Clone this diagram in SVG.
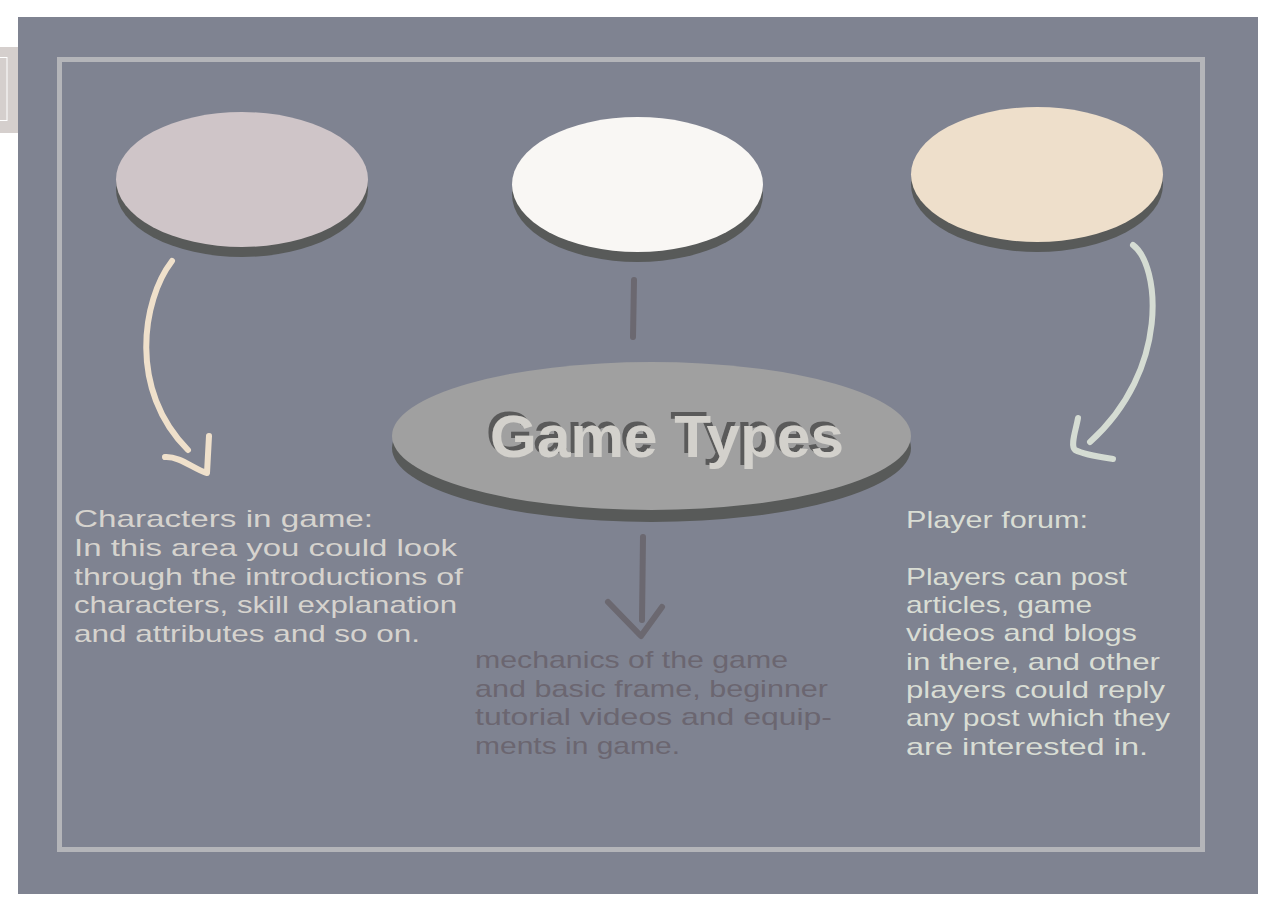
<svg xmlns="http://www.w3.org/2000/svg" width="1275" height="909" viewBox="0 0 1275 909">
<style>
.shadow{fill:#585a59}
.hand{font-family:"Liberation Sans",Arial,sans-serif;font-size:24px}
.lt{fill:#d6d3ce}
.mt{fill:#6b6670}
.rt{fill:#d9ddd4}
.conn{fill:none;stroke-linecap:round;stroke-linejoin:round;stroke-width:6}
</style>
<defs>
<filter id="tshadow" x="-10%" y="-30%" width="120%" height="160%">
<feFlood flood-color="#5a5a5a" result="c"/>
<feComposite in="c" in2="SourceAlpha" operator="in" result="s"/>
<feOffset in="s" dx="-4" dy="-4" result="o"/>
<feMerge><feMergeNode in="o"/><feMergeNode in="SourceGraphic"/></feMerge>
</filter>
</defs>
<rect x="0" y="0" width="1275" height="909" fill="#ffffff"/>
<g id="tab">
<rect x="0" y="47" width="18" height="86" fill="#d5cfcd"/>
<rect x="-2" y="57.5" width="9" height="63" fill="none" stroke="#ffffff" stroke-width="1"/>
</g>
<g id="panel">
<rect x="18" y="17" width="1240" height="877" fill="#7f8391"/>
<rect x="59.5" y="59.5" width="1143" height="790" fill="none" stroke="#b4b5b9" stroke-width="5"/>
</g>
<g id="node-left">
<ellipse class="shadow" cx="242" cy="189.5" rx="126" ry="67.5"/>
<ellipse cx="242" cy="179.5" rx="126" ry="67.5" fill="#cfc5c8"/>
</g>
<g id="node-middle">
<ellipse class="shadow" cx="637.5" cy="194.5" rx="125.5" ry="67.5"/>
<ellipse cx="637.5" cy="184.5" rx="125.5" ry="67.5" fill="#f9f7f4"/>
</g>
<g id="node-right">
<ellipse class="shadow" cx="1037" cy="184.5" rx="126" ry="67.5"/>
<ellipse cx="1037" cy="174.5" rx="126" ry="67.5" fill="#eedfcb"/>
</g>
<g id="node-center">
<ellipse class="shadow" cx="651.5" cy="448" rx="259.5" ry="74"/>
<ellipse cx="651.5" cy="436" rx="259.5" ry="74" fill="#a0a0a0"/>
<text x="667" y="457" text-anchor="middle" font-family="'Liberation Sans',Arial,sans-serif" font-weight="bold" font-size="60" fill="#d3d1cc" filter="url(#tshadow)" textLength="354" lengthAdjust="spacingAndGlyphs">Game Types</text>
</g>
<g id="connectors">
<path class="conn" stroke="#efe0cb" d="M172,261 C142,300 128,390 188,450"/>
<path class="conn" stroke="#efe0cb" d="M165,457 C180,456 195,470 207,473 L209,436"/>
<path class="conn" stroke="#6b6870" d="M634,280 L633,337"/>
<path class="conn" stroke="#6b6870" d="M643,537 L642,620"/>
<path class="conn" stroke="#6b6870" d="M608,602 L641,636 L662,607"/>
<path class="conn" stroke="#d5dcd3" d="M1133,245 C1160,265 1170,370 1090,442"/>
<path class="conn" stroke="#d5dcd3" d="M1078,418 C1076,430 1070,445 1075,450 C1085,455 1100,457 1113,459"/>
</g>
<g id="text-left" class="hand lt">
<text x="74" y="527" textLength="299" lengthAdjust="spacingAndGlyphs">Characters in game:</text>
<text x="74" y="556" textLength="383" lengthAdjust="spacingAndGlyphs">In this area you could look</text>
<text x="74" y="584.5" textLength="389" lengthAdjust="spacingAndGlyphs">through the introductions of</text>
<text x="74" y="613" textLength="383" lengthAdjust="spacingAndGlyphs">characters, skill explanation</text>
<text x="74" y="641.5" textLength="346" lengthAdjust="spacingAndGlyphs">and attributes and so on.</text>
</g>
<g id="text-middle" class="hand mt">
<text x="475" y="668" textLength="313" lengthAdjust="spacingAndGlyphs">mechanics of the game</text>
<text x="475" y="696.5" textLength="353" lengthAdjust="spacingAndGlyphs">and basic frame, beginner</text>
<text x="475" y="725" textLength="357" lengthAdjust="spacingAndGlyphs">tutorial videos and equip-</text>
<text x="475" y="753.5" textLength="205" lengthAdjust="spacingAndGlyphs">ments in game.</text>
</g>
<g id="text-right" class="hand rt">
<text x="906" y="528" textLength="182" lengthAdjust="spacingAndGlyphs">Player forum:</text>
<text x="906" y="585" textLength="221" lengthAdjust="spacingAndGlyphs">Players can post</text>
<text x="906" y="613" textLength="186" lengthAdjust="spacingAndGlyphs">articles, game</text>
<text x="906" y="641" textLength="231" lengthAdjust="spacingAndGlyphs">videos and blogs</text>
<text x="906" y="669.5" textLength="254" lengthAdjust="spacingAndGlyphs">in there, and other</text>
<text x="906" y="698" textLength="259" lengthAdjust="spacingAndGlyphs">players could reply</text>
<text x="906" y="726" textLength="264" lengthAdjust="spacingAndGlyphs">any post which they</text>
<text x="906" y="754.5" textLength="242" lengthAdjust="spacingAndGlyphs">are interested in.</text>
</g>
</svg>
